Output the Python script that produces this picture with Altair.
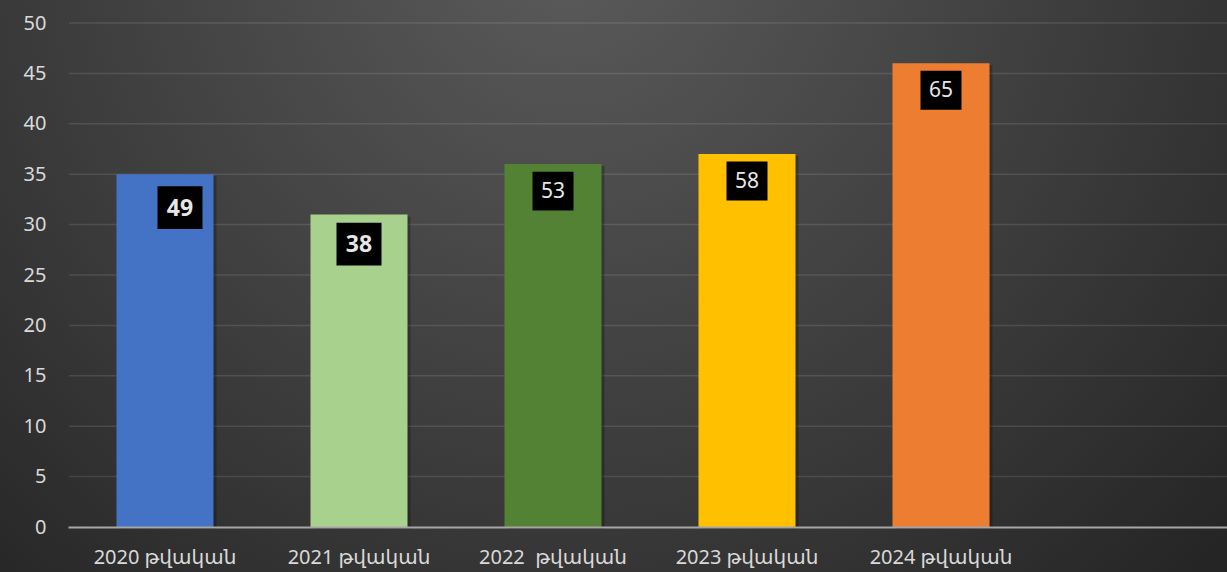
import altair as alt
import pandas as pd

# ---- data ----
categories = ["2020 թվական", "2021 թվական", "2022\u00a0 թվական", "2023 թվական", "2024 թվական"]
values = [35, 31, 36, 37, 46]
labels = ["49", "38", "53", "58", "65"]
y_ticks = [0, 5, 10, 15, 20, 25, 30, 35, 40, 45, 50]

# ---- styles (kept separate from the data) ----
bar_colors = ["#4472C4", "#A9D18E", "#548235", "#FFC000", "#ED7D31"]
bold_labels = ["49", "38"]
FONT = "Noto Sans, DejaVu Sans"
TEXT_COLOR = "#d9d9d9"

W, H = 1159, 504
PAD_L, PAD_T, PAD_B = 68, 23, 45
x_domain = categories + [" "]

df = pd.DataFrame({"cat": categories, "val": values, "lab": labels})
ticks_df = pd.DataFrame({"v": y_ticks[1:]})

x_scale = alt.Scale(domain=x_domain, range=[0, 1164], paddingInner=0.5, paddingOuter=0.25)
y_scale = alt.Scale(domain=[0, 50], nice=False)

x_enc = alt.X("cat:N", scale=x_scale, sort=x_domain,
              axis=alt.Axis(title=None, labelAngle=0, ticks=False, grid=False,
                            domain=True, domainColor="#a6a6a6", domainWidth=2,
                            labelColor=TEXT_COLOR, labelFontSize=20, labelFont=FONT,
                            labelPadding=20, zindex=1, labelLimit=300))
y_enc = alt.Y("val:Q", scale=y_scale,
              axis=alt.Axis(title=None, values=y_ticks, grid=False, domain=False,
                            ticks=False, labelColor=TEXT_COLOR, labelFontSize=20,
                            labelFont=FONT, labelPadding=22, zindex=1))

background = alt.Chart(alt.Data(values=[{"a": 1}])).mark_rect(
    color={"gradient": "radial", "x1": 0.46, "y1": 0.22, "r1": 0.0,
           "x2": 0.46, "y2": 0.22, "r2": 0.75,
           "stops": [{"offset": 0, "color": "#5b5b5b"},
                     {"offset": 0.6, "color": "#3a3a3a"},
                     {"offset": 1, "color": "#232323"}]},
    clip=False,
).encode(x=alt.value(-PAD_L), x2=alt.value(W + 10),
         y=alt.value(-PAD_T), y2=alt.value(H + PAD_B))

grid = alt.Chart(ticks_df).mark_rule(color="#ffffff", opacity=0.11, strokeWidth=1.5).encode(
    y=alt.Y("v:Q", scale=y_scale), x=alt.value(1), x2=alt.value(W))

shadow = alt.Chart(df).mark_bar(color="#000000", opacity=0.25, xOffset=3, yOffset=2).encode(
    x=x_enc, y=y_enc)

bars = alt.Chart(df).mark_bar(opacity=1).encode(
    x=x_enc, y=y_enc,
    color=alt.Color("cat:N", scale=alt.Scale(domain=categories, range=bar_colors), legend=None))

layers = [background, grid, shadow, bars]

box_path = "M-1,-0.95H1V0.95H-1Z"
for lab in labels:
    bold = lab in bold_labels
    dx = 15 if lab == "49" else 0
    dy = 33.5 if lab == "49" else (29.5 if lab == "38" else 27)
    side = 45 if bold else 41
    sub = alt.Chart(df).transform_filter(alt.datum.lab == lab)
    box = sub.mark_point(shape=box_path, filled=True, color="#000000", opacity=1,
                         size=side * side, strokeWidth=0, xOffset=dx, yOffset=dy).encode(
        x=alt.X("cat:N", scale=x_scale, sort=x_domain), y=alt.Y("val:Q", scale=y_scale))
    txt = sub.mark_text(color="#e6e6e6", font=FONT, fontSize=23 if bold else 21,
                        fontWeight="bold" if bold else "normal",
                        align="center", baseline="middle", xOffset=dx, yOffset=dy + 1).encode(
        x=alt.X("cat:N", scale=x_scale, sort=x_domain), y=alt.Y("val:Q", scale=y_scale),
        text="lab:N")
    layers += [box, txt]

chart = alt.layer(*layers).properties(
    width=W, height=H,
    padding={"left": PAD_L, "top": PAD_T, "right": 0, "bottom": PAD_B},
    autosize=alt.AutoSizeParams(type="none"),
    background="#2b2b2b",
).configure_view(strokeWidth=0)

chart.save("out.html", embed_options={"renderer": "svg", "actions": False})
